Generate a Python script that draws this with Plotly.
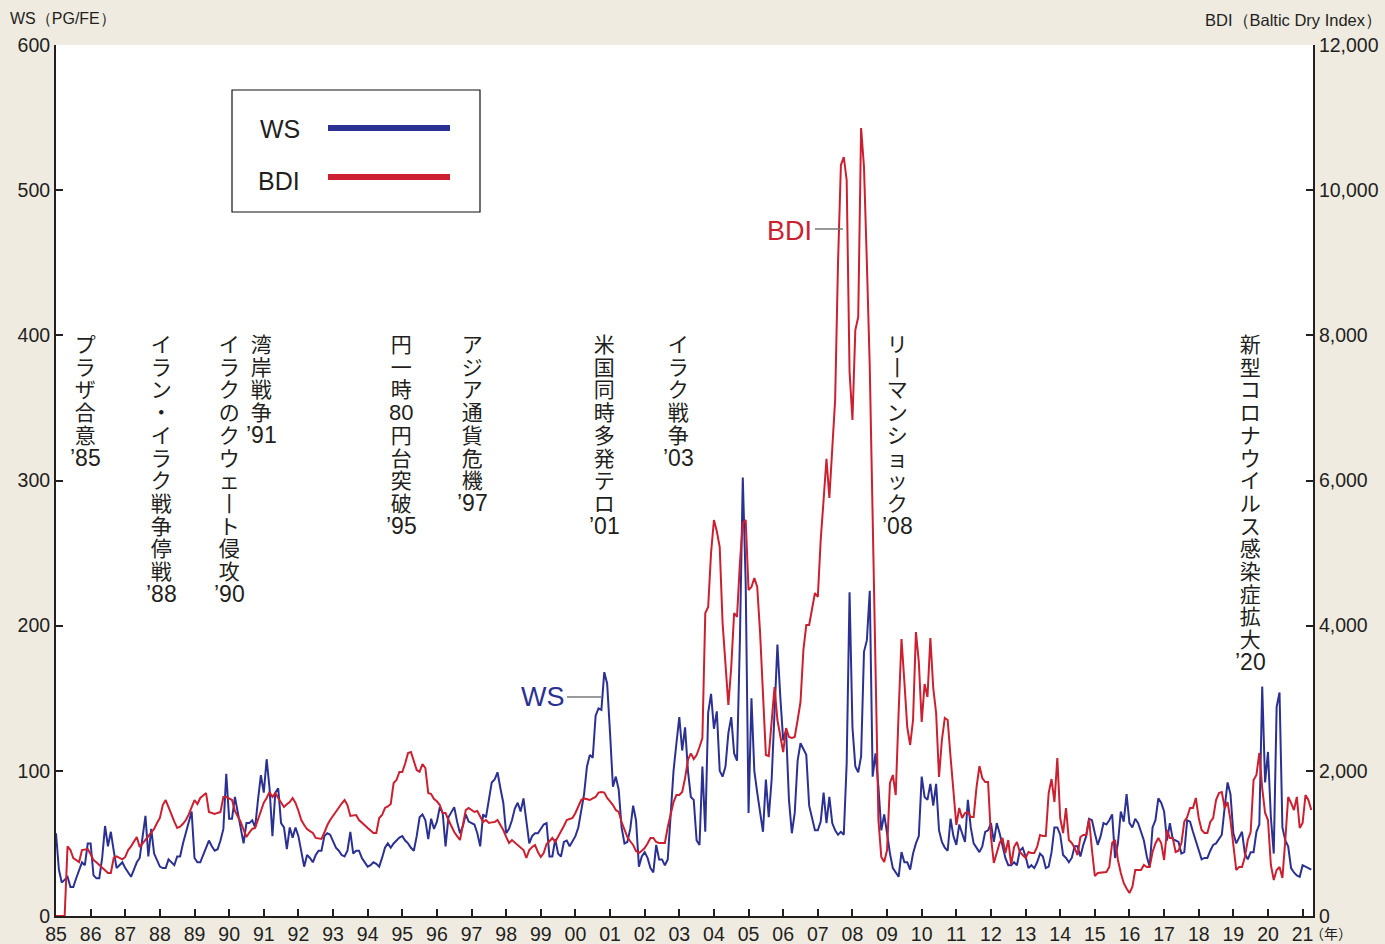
import plotly.graph_objects as go

# ---------------- data (monthly, Jan 1985 - Apr 2021) ----------------
start_year = 1985
ws = [
    57, 32, 23, 25, 27, 20, 20, 26, 32, 37, 35, 50,        # 1985
    50, 28, 26, 26, 40, 62, 48, 58, 45, 33, 35, 37,        # 1986
    33, 30, 27, 32, 37, 40, 55, 69, 41, 60, 43, 38,        # 1987
    34, 33, 33, 39, 37, 35, 41, 41, 50, 58, 66, 72,        # 1988
    40, 37, 37, 42, 47, 52, 48, 45, 46, 52, 60, 98,        # 1989
    67, 67, 82, 72, 62, 50, 64, 64, 66, 61, 80, 97,        # 1990
    85, 108, 88, 55, 85, 88, 64, 61, 46, 61, 54, 61,       # 1991
    55, 45, 34, 42, 40, 37, 42, 45, 45, 55, 57, 56,        # 1992
    52, 47, 45, 42, 41, 45, 58, 43, 45, 45, 40, 37,        # 1993
    34, 35, 37, 36, 34, 40, 47, 50, 47, 50, 52, 54,        # 1994
    55, 52, 50, 47, 45, 55, 68, 70, 66, 53, 67, 60,        # 1995
    65, 75, 71, 48, 68, 72, 75, 65, 57, 62, 70, 65,        # 1996
    64, 63, 57, 48, 70, 68, 80, 92, 94, 99, 88, 78,        # 1997
    57, 60, 66, 74, 78, 72, 81, 66, 50, 55, 57, 57,        # 1998
    60, 63, 64, 41, 41, 53, 43, 41, 51, 52, 48, 52,        # 1999
    55, 61, 72, 84, 103, 111, 109, 138, 143, 142, 168, 160,  # 2000
    126, 89, 96, 87, 61, 50, 51, 60, 76, 66, 34, 41,       # 2001
    44, 40, 33, 30, 49, 39, 39, 35, 39, 73, 100, 119,      # 2002
    137, 114, 130, 100, 82, 80, 52, 49, 103, 58, 140, 153, # 2003
    129, 141, 100, 96, 103, 126, 137, 112, 107, 190, 302, 230,  # 2004
    71, 150, 100, 85, 71, 58, 94, 68, 94, 140, 187, 151,   # 2005
    121, 128, 80, 57, 71, 107, 119, 115, 111, 76, 67, 59,  # 2006
    59, 65, 85, 64, 82, 64, 59, 56, 58, 56, 105, 223,      # 2007
    130, 103, 99, 110, 182, 190, 224, 96, 112, 89, 59, 70, # 2008
    57, 43, 33, 30, 27, 44, 37, 37, 32, 43, 50, 55,        # 2009
    96, 82, 80, 91, 76, 91, 59, 51, 47, 45, 67, 55,        # 2010
    49, 63, 57, 51, 80, 61, 50, 47, 44, 48, 58, 59,        # 2011
    64, 51, 64, 57, 48, 40, 35, 35, 37, 35, 45, 47,        # 2012
    41, 33, 35, 33, 37, 43, 41, 33, 34, 44, 61, 61,        # 2013
    56, 42, 40, 37, 40, 48, 48, 41, 49, 55, 67, 66,        # 2014
    57, 49, 55, 64, 63, 66, 70, 40, 50, 72, 65, 84,        # 2015
    64, 61, 67, 64, 58, 52, 41, 34, 61, 66, 81, 78,        # 2016
    72, 52, 64, 53, 52, 51, 43, 44, 66, 65, 58, 52,        # 2017
    45, 39, 40, 40, 45, 49, 50, 53, 56, 75, 92, 84,        # 2018
    57, 50, 54, 58, 43, 39, 44, 44, 58, 63, 158, 92,       # 2019
    113, 68, 43, 144, 154, 61, 52, 48, 33, 30, 28, 27,     # 2020
    35, 34, 33, 32,                                        # 2021
]
bdi = [
    0, 0, 0, 0, 960, 909, 799, 770, 744, 909, 920, 923,                    # 1985
    850, 771, 740, 703, 660, 620, 592, 592, 799, 820, 799, 780,            # 1986
    813, 909, 960, 1020, 1088, 950, 1000, 1061, 1100, 1150, 1199, 1280,    # 1987
    1350, 1529, 1598, 1500, 1391, 1300, 1212, 1230, 1270, 1322, 1400, 1488,  # 1988
    1598, 1543, 1626, 1660, 1694, 1433, 1420, 1405, 1420, 1433, 1640, 1640,  # 1989
    1620, 1598, 1447, 1370, 1295, 1190, 1088, 1150, 1199, 1212, 1330, 1460,  # 1990
    1560, 1626, 1708, 1640, 1694, 1626, 1560, 1502, 1540, 1570, 1626, 1557,  # 1991
    1450, 1322, 1254, 1199, 1170, 1143, 1075, 1068, 1061, 1150, 1250, 1322,  # 1992
    1380, 1440, 1502, 1550, 1598, 1529, 1378, 1380, 1391, 1322, 1290, 1250,  # 1993
    1212, 1170, 1143, 1143, 1350, 1391, 1488, 1510, 1543, 1832, 1874, 1984,  # 1994
    1984, 2100, 2246, 2259, 2150, 2011, 1988, 2094, 2039, 1694, 1680, 1612,  # 1995
    1580, 1529, 1419, 1419, 1322, 1240, 1157, 1100, 1047, 1250, 1460, 1488,  # 1996
    1460, 1433, 1447, 1370, 1295, 1322, 1281, 1290, 1295, 1322, 1250, 1185,  # 1997
    1090, 1006, 1047, 1010, 978, 940, 909, 799, 909, 950, 978, 882,        # 1998
    813, 868, 992, 1030, 1075, 1020, 1090, 1157, 1240, 1322, 1340, 1350,   # 1999
    1419, 1500, 1598, 1620, 1610, 1598, 1620, 1640, 1700, 1708, 1700, 1626,  # 2000
    1580, 1529, 1460, 1433, 1295, 1200, 1088, 1030, 978, 895, 868, 900,    # 2001
    937, 1000, 1075, 1075, 1020, 1006, 1006, 1006, 1226, 1400, 1570, 1667,  # 2002
    1667, 1708, 1900, 2150, 2240, 2163, 2218, 2328, 2452, 4174, 4257, 5001,  # 2003
    5456, 5300, 5084, 4037, 3431, 2907, 3431, 4174, 4119, 4863, 5414, 5456,  # 2004
    4491, 4532, 4657, 4532, 3899, 3072, 2218, 2204, 2700, 3155, 2700, 2450,  # 2005
    2259, 2590, 2466, 2452, 2466, 2700, 2948, 3665, 4009, 4009, 4257, 4450,  # 2006
    4395, 5180, 5731, 6300, 5759, 6500, 7109, 9000, 10346, 10457, 10140, 7500,  # 2007
    6833, 8073, 8252, 10856, 10319, 9000, 7564, 5500, 3500, 1322, 813, 744,  # 2008
    909, 1832, 1943, 1667, 2800, 3816, 3224, 2600, 2356, 2700, 3913, 3499,  # 2009
    2673, 3196, 3017, 3830, 3141, 2797, 1915, 2425, 2728, 2700, 2190, 1694,  # 2010
    1254, 1488, 1350, 1419, 1433, 1364, 1364, 1777, 2066, 1900, 1846, 1846,  # 2011
    1088, 730, 882, 1006, 1075, 868, 1047, 703, 951, 1020, 882, 840,       # 2012
    799, 882, 868, 868, 951, 1116, 1102, 1102, 1694, 1887, 1570, 2177,     # 2013
    1350, 1143, 1488, 1047, 1006, 937, 840, 1088, 1116, 1116, 1336, 909,   # 2014
    551, 592, 600, 606, 606, 675, 1006, 1047, 772, 592, 455, 380,          # 2015
    317, 400, 634, 634, 634, 703, 675, 675, 882, 1000, 1075, 1006,         # 2016
    772, 1185, 1075, 1075, 882, 900, 1006, 1300, 1364, 1488, 1488, 1626,   # 2017
    1350, 1185, 1143, 1143, 1295, 1350, 1598, 1694, 1708, 1488, 1570, 1322,  # 2018
    1006, 634, 675, 675, 813, 1047, 1157, 1874, 1943, 2246, 1763, 1419,    # 2019
    1322, 703, 496, 634, 675, 523, 1047, 1640, 1557, 1460, 1640, 1212,     # 2020
    1281, 1667, 1598, 1460,                                                # 2021
]
months = [start_year + i / 12 for i in range(len(ws))]

x_tick_years = list(range(1985, 2022))
x_tick_text = [f"{y % 100:02d}" for y in x_tick_years]
ws_ticks = [0, 100, 200, 300, 400, 500, 600]
bdi_ticks = [0, 2000, 4000, 6000, 8000, 10000, 12000]
bdi_tick_text = [f"{v:,}" for v in bdi_ticks]

# events: (vertical text tokens, year label)
events = [
    (["プ", "ラ", "ザ", "合", "意"], "’85"),
    (["イ", "ラ", "ン", "・", "イ", "ラ", "ク", "戦", "争", "停", "戦"], "’88"),
    (["イ", "ラ", "ク", "の", "ク", "ウ", "ェ", "丨", "ト", "侵", "攻"], "’90"),
    (["湾", "岸", "戦", "争"], "’91"),
    (["円", "一", "時", "80", "円", "台", "突", "破"], "’95"),
    (["ア", "ジ", "ア", "通", "貨", "危", "機"], "’97"),
    (["米", "国", "同", "時", "多", "発", "テ", "ロ"], "’01"),
    (["イ", "ラ", "ク", "戦", "争"], "’03"),
    (["リ", "丨", "マ", "ン", "シ", "ョ", "ッ", "ク"], "’08"),
    (["新", "型", "コ", "ロ", "ナ", "ウ", "イ", "ル", "ス", "感", "染", "症", "拡", "大"], "’20"),
]
event_px = [85, 161, 230, 261, 401, 472, 604, 678, 897, 1250]

# ---------------- layout geometry (pixels) ----------------
W, H = 1385, 944
PL, PR, PT, PB = 56, 1313, 45, 916
BLUE = "#2b3192"
RED = "#cc1f2f"
TXT = "#231f20"
BG = "#efebe1"
LAT = "Liberation Sans, Arial, sans-serif"
CJK = "Noto Sans CJK JP"


def fx(p):
    return (p - PL) / (PR - PL)


def fy(p):
    return (PB - p) / (PB - PT)


fig = go.Figure()
fig.add_trace(go.Scatter(x=months, y=bdi, mode="lines", name="BDI",
                         line=dict(color=RED, width=2), yaxis="y2"))
fig.add_trace(go.Scatter(x=months, y=ws, mode="lines", name="WS",
                         line=dict(color=BLUE, width=2), yaxis="y"))

ann = []
shapes = []
step = 22.7          # vertical pitch of the stacked characters
base = step / 1.3    # annotation font size giving that line pitch
y0 = 342
for (chars, yr), xp in zip(events, event_px):
    parts = []
    for ch in chars:
        if ch == "80":
            parts.append(f'<span style="font-family:Liberation Sans;font-size:22px">{ch}</span>')
        else:
            parts.append(f'<span style="font-size:21px">{ch}</span>')
    parts.append(f'<span style="font-family:Liberation Sans;font-size:23px">{yr}</span>')
    n = len(chars)
    ann.append(dict(x=fx(xp), y=fy(y0 + n * step / 2 + 1), xref="paper", yref="paper",
                    text="<br>".join(parts), showarrow=False, xanchor="center", yanchor="middle",
                    align="center", font=dict(family=CJK, size=base, color=TXT)))

# series labels
ann.append(dict(x=fx(543), y=fy(697), xref="paper", yref="paper", text="WS", showarrow=False,
                xanchor="center", yanchor="middle", font=dict(family=LAT, size=27, color=BLUE)))
ann.append(dict(x=fx(789), y=fy(231), xref="paper", yref="paper", text="BDI", showarrow=False,
                xanchor="center", yanchor="middle", font=dict(family=LAT, size=27, color=RED)))
shapes.append(dict(type="line", xref="paper", yref="paper", x0=fx(567), x1=fx(601), y0=fy(697), y1=fy(697),
                   line=dict(color="#777777", width=1.5)))
shapes.append(dict(type="line", xref="paper", yref="paper", x0=fx(815), x1=fx(843), y0=fy(229), y1=fy(229),
                   line=dict(color="#777777", width=1.5)))

# legend box
shapes.append(dict(type="rect", xref="paper", yref="paper", x0=fx(232), x1=fx(480), y0=fy(212), y1=fy(90),
                   line=dict(color="#111111", width=1.2), fillcolor="white"))
shapes.append(dict(type="line", xref="paper", yref="paper", x0=fx(328), x1=fx(450), y0=fy(128), y1=fy(128),
                   line=dict(color=BLUE, width=6)))
shapes.append(dict(type="line", xref="paper", yref="paper", x0=fx(328), x1=fx(450), y0=fy(177), y1=fy(177),
                   line=dict(color=RED, width=6)))
ann.append(dict(x=fx(258), y=fy(129), xref="paper", yref="paper", text="WS", showarrow=False,
                xanchor="left", yanchor="middle", font=dict(family=LAT, size=25, color=TXT)))
ann.append(dict(x=fx(256), y=fy(181), xref="paper", yref="paper", text="BDI", showarrow=False,
                xanchor="left", yanchor="middle", font=dict(family=LAT, size=25, color=TXT)))

# axis titles and unit
ann.append(dict(x=fx(8), y=fy(19), xref="paper", yref="paper", text="WS（PG/FE）",
                showarrow=False, xanchor="left", yanchor="middle", font=dict(family=LAT, size=16, color=TXT)))
ann.append(dict(x=fx(1384), y=fy(20), xref="paper", yref="paper", text="BDI（Baltic Dry Index）",
                showarrow=False, xanchor="right", yanchor="middle", font=dict(family=LAT, size=16.5, color=TXT)))
ann.append(dict(x=fx(1308), y=fy(933), xref="paper", yref="paper", text="（年）",
                showarrow=False, xanchor="left", yanchor="middle", font=dict(family=CJK, size=14, color=TXT)))

axis_font = dict(family=LAT, size=19.5, color=TXT)
fig.update_layout(
    width=W, height=H,
    paper_bgcolor=BG, plot_bgcolor="white",
    margin=dict(l=PL, r=W - PR, t=PT, b=H - PB, pad=0, autoexpand=False),
    showlegend=False,
    xaxis=dict(range=[1985, 2021.3], tickmode="array", tickvals=x_tick_years, ticktext=x_tick_text,
               ticks="inside", ticklen=7, tickwidth=2, tickcolor=TXT, automargin=False,
               showline=True, linewidth=2, linecolor=TXT, showgrid=False, zeroline=False,
               tickfont=axis_font),
    yaxis=dict(range=[0, 600], tickmode="array", tickvals=ws_ticks, automargin=False,
               ticks="inside", ticklen=7, tickwidth=2, tickcolor=TXT,
               showline=True, linewidth=2, linecolor=TXT, showgrid=False, zeroline=False,
               tickfont=axis_font),
    yaxis2=dict(range=[0, 12000], overlaying="y", side="right", tickmode="array",
                tickvals=bdi_ticks, ticktext=bdi_tick_text, automargin=False,
                ticks="inside", ticklen=7, tickwidth=2, tickcolor=TXT,
                showline=True, linewidth=2, linecolor=TXT, showgrid=False, zeroline=False,
                tickfont=axis_font),
    annotations=ann,
    shapes=shapes,
)

fig.write_html("out.html", config={"displayModeBar": False},
               post_script="document.body.style.margin='0';document.body.style.background='%s';" % BG)
